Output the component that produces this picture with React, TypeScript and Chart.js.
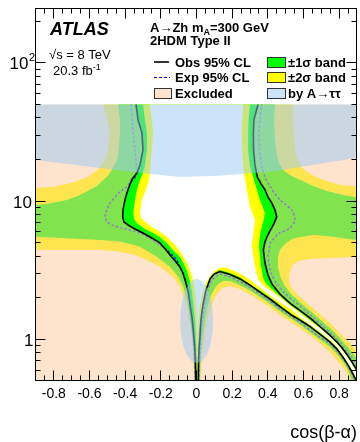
import { useEffect, useRef } from 'react';
import { Chart, registerables } from 'chart.js';

Chart.register(...registerables);

type Pt = [number, number];

// Axis ranges: cos(β−α) horizontally, tanβ (log) vertically
const X_MIN = -0.9;
const X_MAX = 0.9;
const Y_MIN = 0.5;
const Y_MAX = 250;
const Y_TOP = 50; // contours are computed up to tanβ = 50

const xTickValues = [-0.8, -0.6, -0.4, -0.2, 0, 0.2, 0.4, 0.6, 0.8];
const xTickLabels = ['-0.8', '-0.6', '-0.4', '-0.2', '0', '0.2', '0.4', '0.6', '0.8'];
const xMinorTicks = [-0.85, -0.75, -0.7, -0.65, -0.55, -0.5, -0.45, -0.35, -0.3, -0.25, -0.15, -0.1, -0.05,
  0.05, 0.1, 0.15, 0.25, 0.3, 0.35, 0.45, 0.5, 0.55, 0.65, 0.7, 0.75, 0.85];
const yMajorTicks = [1, 10, 100];
const yMinorTicks = [0.6, 0.7, 0.8, 0.9, 2, 3, 4, 5, 6, 7, 8, 9, 20, 30, 40, 50, 60, 70, 80, 90, 200];

// Observed 95% CL contour: left branch (top to bottom)
const obsLeft: Pt[] = [[-0.339, 50], [-0.328, 38.8], [-0.306, 31.3], [-0.300, 23.5], [-0.317, 18.3], [-0.334, 16.0], [-0.363, 14.3], [-0.390, 11.5], [-0.401, 10.2], [-0.412, 8.65], [-0.414, 7.70], [-0.407, 7.08], [-0.384, 6.73], [-0.345, 6.30], [-0.300, 5.89], [-0.250, 5.42], [-0.205, 4.99], [-0.171, 4.44], [-0.139, 3.95], [-0.115, 3.63], [-0.093, 3.34], [-0.076, 3.02], [-0.064, 2.69], [-0.053, 2.39], [-0.045, 2.17], [-0.036, 1.77], [-0.025, 1.43], [-0.018, 1.17], [-0.011, 0.909], [-0.006, 0.708], [-0.004, 0.5]];
// Observed: right of the spike, over the bump and down to the bottom edge
const obsLower: Pt[] = [[0.010, 0.5], [0.011, 0.651], [0.014, 0.837], [0.020, 1.07], [0.025, 1.38], [0.036, 1.77], [0.053, 2.28], [0.076, 2.74], [0.098, 2.97], [0.132, 3.10], [0.188, 2.95], [0.244, 2.74], [0.300, 2.47], [0.356, 2.20], [0.412, 1.96], [0.485, 1.66], [0.536, 1.49], [0.580, 1.38], [0.636, 1.24], [0.692, 1.09], [0.749, 0.956], [0.788, 0.851], [0.821, 0.744], [0.850, 0.651], [0.872, 0.579], [0.889, 0.524], [0.896, 0.5]];
// Observed: upper-right branch (right edge up to the top)
const obsUpper: Pt[] = [[0.900, 0.599], [0.889, 0.630], [0.872, 0.685], [0.850, 0.757], [0.821, 0.851], [0.788, 0.956], [0.749, 1.07], [0.692, 1.24], [0.636, 1.43], [0.580, 1.62], [0.524, 1.83], [0.468, 2.13], [0.423, 2.52], [0.401, 2.92], [0.384, 3.57], [0.375, 4.44], [0.384, 5.07], [0.395, 5.51], [0.412, 6.09], [0.431, 6.73], [0.450, 7.70], [0.440, 8.65], [0.422, 9.72], [0.401, 10.7], [0.384, 12.1], [0.362, 13.35], [0.341, 15.0], [0.328, 18.3], [0.320, 23.5], [0.319, 31.3], [0.322, 38.8], [0.334, 44.4], [0.345, 50]];

// Expected 95% CL contour
const expLeft: Pt[] = [[-0.367, 50], [-0.356, 32.9], [-0.345, 23.5], [-0.335, 16.9], [-0.345, 14.8], [-0.373, 13.6], [-0.391, 12.7], [-0.429, 11.7], [-0.457, 10.7], [-0.485, 9.72], [-0.504, 8.65], [-0.513, 7.83], [-0.504, 7.08], [-0.474, 6.73], [-0.429, 6.41], [-0.373, 6.19], [-0.317, 5.89], [-0.261, 5.42], [-0.205, 4.82], [-0.165, 4.44], [-0.132, 4.02], [-0.109, 3.76], [-0.093, 3.34], [-0.070, 2.87], [-0.053, 2.39], [-0.042, 1.93], [-0.028, 1.38], [-0.017, 0.988], [-0.011, 0.708], [-0.008, 0.5]];
const expLower: Pt[] = [[0.014, 0.5], [0.016, 0.651], [0.020, 0.837], [0.025, 1.07], [0.032, 1.38], [0.045, 1.77], [0.062, 2.24], [0.081, 2.65], [0.109, 2.87], [0.137, 2.97], [0.188, 2.83], [0.244, 2.62], [0.300, 2.37], [0.373, 2.06], [0.485, 1.60], [0.580, 1.33], [0.676, 1.07], [0.749, 0.925], [0.793, 0.809], [0.827, 0.708], [0.855, 0.619], [0.878, 0.542], [0.889, 0.5]];
const expUpper: Pt[] = [[0.900, 0.641], [0.872, 0.732], [0.838, 0.837], [0.805, 0.948], [0.765, 1.07], [0.709, 1.25], [0.653, 1.45], [0.600, 1.66], [0.547, 1.89], [0.493, 2.17], [0.449, 2.52], [0.423, 2.92], [0.407, 3.46], [0.401, 3.95], [0.407, 4.44], [0.412, 4.97], [0.459, 5.86], [0.496, 6.09], [0.524, 6.38], [0.547, 6.96], [0.552, 7.53], [0.544, 8.23], [0.534, 8.65], [0.502, 9.40], [0.468, 10.2], [0.435, 11.5], [0.412, 12.8], [0.384, 14.8], [0.366, 17.8], [0.353, 23.5], [0.350, 31.2], [0.356, 38.8], [0.366, 50]];

// Expected −1σ contour (inner edge of the ±1σ band)
const inner1Left: Pt[] = [[-0.300, 50], [-0.289, 38.8], [-0.278, 31.3], [-0.278, 23.5], [-0.289, 18.3], [-0.300, 16.0], [-0.317, 14.3], [-0.334, 12.1], [-0.345, 10.2], [-0.354, 8.23], [-0.350, 7.44], [-0.335, 6.96], [-0.289, 6.30], [-0.243, 5.89], [-0.205, 5.51], [-0.167, 4.99], [-0.132, 4.44], [-0.093, 3.95], [-0.070, 3.51], [-0.055, 3.18], [-0.039, 2.69], [-0.027, 2.28], [-0.017, 1.77], [-0.008, 1.38], [-0.003, 0.988], [0.000, 0.708], [0.001, 0.5]];
const inner1Lower: Pt[] = [[0.007, 0.5], [0.008, 0.708], [0.011, 0.909], [0.016, 1.17], [0.025, 1.50], [0.039, 1.93], [0.059, 2.35], [0.081, 2.78], [0.109, 3.07], [0.132, 3.18], [0.188, 3.02], [0.244, 2.80], [0.300, 2.50], [0.356, 2.26], [0.412, 2.01], [0.485, 1.70], [0.536, 1.52], [0.580, 1.41], [0.636, 1.26], [0.692, 1.11], [0.749, 0.972], [0.788, 0.865], [0.821, 0.757], [0.850, 0.662], [0.872, 0.589], [0.889, 0.533], [0.900, 0.51]];
const inner1Upper: Pt[] = [[0.900, 0.589], [0.889, 0.619], [0.872, 0.674], [0.850, 0.744], [0.821, 0.837], [0.788, 0.940], [0.749, 1.06], [0.692, 1.22], [0.636, 1.39], [0.580, 1.58], [0.524, 1.79], [0.468, 2.06], [0.423, 2.31], [0.390, 2.54], [0.373, 2.78], [0.362, 3.40], [0.356, 3.97], [0.350, 4.82], [0.356, 5.70], [0.366, 6.51], [0.379, 7.57], [0.384, 8.19], [0.367, 9.40], [0.356, 10.2], [0.339, 12.1], [0.328, 13.5], [0.306, 16.9], [0.300, 17.8], [0.290, 23.5], [0.290, 31.2], [0.292, 38.8], [0.300, 50]];

// Expected −2σ contour (inner edge of the ±2σ band)
const inner2Left: Pt[] = [[-0.261, 50], [-0.250, 38.8], [-0.244, 31.3], [-0.250, 23.5], [-0.258, 18.3], [-0.266, 14.3], [-0.283, 12.1], [-0.307, 10.2], [-0.317, 8.23], [-0.311, 7.57], [-0.289, 7.11], [-0.250, 6.51], [-0.205, 6.02], [-0.165, 5.51], [-0.130, 4.96], [-0.098, 4.44], [-0.074, 3.97], [-0.053, 3.57], [-0.036, 3.18], [-0.020, 2.69], [-0.008, 2.28], [-0.001, 1.77], [0.003, 1.38], [0.004, 0.5]];
const inner2Lower: Pt[] = [[0.005, 0.5], [0.006, 0.988], [0.010, 1.33], [0.020, 1.77], [0.034, 2.17], [0.053, 2.56], [0.081, 2.92], [0.109, 3.18], [0.132, 3.31], [0.171, 3.29], [0.227, 3.07], [0.283, 2.80], [0.356, 2.37], [0.412, 2.08], [0.468, 1.86], [0.524, 1.67], [0.580, 1.45], [0.636, 1.28], [0.692, 1.13], [0.749, 0.988], [0.788, 0.880], [0.821, 0.769], [0.850, 0.674], [0.872, 0.599], [0.889, 0.542], [0.900, 0.516]];
const inner2Upper: Pt[] = [[0.900, 0.579], [0.889, 0.609], [0.872, 0.662], [0.850, 0.732], [0.821, 0.823], [0.788, 0.925], [0.749, 1.04], [0.692, 1.20], [0.636, 1.36], [0.580, 1.54], [0.524, 1.76], [0.468, 2.01], [0.412, 2.28], [0.373, 2.47], [0.347, 2.69], [0.328, 3.36], [0.310, 4.69], [0.319, 5.86], [0.328, 7.32], [0.300, 9.14], [0.282, 12.1], [0.262, 17.8], [0.253, 31.2], [0.262, 50]];

// Expected +1σ contour (outer edge of the ±1σ band)
const outer1Left: Pt[] = [[-0.440, 50], [-0.429, 38.8], [-0.429, 31.3], [-0.435, 23.5], [-0.446, 19.9], [-0.474, 16.9], [-0.502, 15.0], [-0.552, 13.1], [-0.597, 12.1], [-0.665, 10.9], [-0.726, 10.2], [-0.822, 9.64], [-0.900, 9.40], [-0.900, 5.51], [-0.765, 5.42], [-0.541, 5.24], [-0.429, 5.10], [-0.317, 4.69], [-0.223, 3.97], [-0.149, 3.36], [-0.102, 2.84], [-0.074, 2.40], [-0.053, 1.93], [-0.039, 1.50], [-0.027, 1.17], [-0.018, 0.909], [-0.014, 0.708], [-0.011, 0.5]];
const outer1Lower: Pt[] = [[0.020, 0.5], [0.022, 0.651], [0.028, 0.837], [0.036, 1.07], [0.048, 1.38], [0.064, 1.77], [0.087, 2.17], [0.115, 2.47], [0.149, 2.65], [0.188, 2.65], [0.244, 2.47], [0.300, 2.26], [0.373, 1.96], [0.485, 1.54], [0.580, 1.28], [0.676, 1.03], [0.749, 0.880], [0.793, 0.769], [0.827, 0.674], [0.850, 0.599], [0.872, 0.5]];
const outer1Upper: Pt[] = [[0.900, 0.720], [0.872, 0.809], [0.838, 0.909], [0.799, 1.04], [0.749, 1.21], [0.692, 1.40], [0.636, 1.62], [0.580, 1.86], [0.530, 2.13], [0.496, 2.43], [0.474, 2.78], [0.457, 3.29], [0.457, 3.88], [0.468, 4.44], [0.496, 4.90], [0.536, 5.33], [0.580, 5.51], [0.653, 5.70], [0.749, 5.56], [0.833, 5.37], [0.900, 5.24], [0.900, 10.7], [0.833, 11.0], [0.749, 11.7], [0.653, 12.9], [0.580, 14.3], [0.524, 15.5], [0.485, 16.9], [0.463, 18.9], [0.450, 21.7], [0.440, 27.8], [0.435, 35.7], [0.440, 50]];

// Expected +2σ contour (outer edge of the ±2σ band)
const outer2Left: Pt[] = [[-0.524, 50], [-0.502, 38.8], [-0.485, 31.3], [-0.496, 23.5], [-0.513, 19.9], [-0.552, 16.9], [-0.608, 15.0], [-0.681, 13.8], [-0.782, 12.8], [-0.900, 12.5], [-0.900, 4.44], [-0.765, 4.44], [-0.541, 4.44], [-0.429, 4.31], [-0.345, 4.08], [-0.299, 3.86], [-0.205, 3.36], [-0.130, 2.84], [-0.093, 2.40], [-0.064, 1.93], [-0.045, 1.50], [-0.031, 1.17], [-0.022, 0.909], [-0.018, 0.708], [-0.014, 0.5]];
const outer2Lower: Pt[] = [[0.025, 0.5], [0.028, 0.651], [0.036, 0.837], [0.048, 1.07], [0.062, 1.38], [0.081, 1.74], [0.109, 2.09], [0.143, 2.35], [0.188, 2.43], [0.244, 2.31], [0.311, 2.09], [0.384, 1.80], [0.485, 1.45], [0.580, 1.21], [0.665, 1.005], [0.737, 0.837], [0.782, 0.720], [0.816, 0.641], [0.844, 0.570], [0.861, 0.5]];
const outer2Upper: Pt[] = [[0.900, 0.823], [0.855, 0.956], [0.810, 1.09], [0.760, 1.27], [0.704, 1.48], [0.648, 1.70], [0.592, 1.96], [0.552, 2.20], [0.527, 2.43], [0.519, 2.69], [0.522, 3.02], [0.536, 3.40], [0.569, 3.69], [0.636, 3.82], [0.749, 3.88], [0.900, 3.95], [0.900, 12.8], [0.805, 13.1], [0.709, 14.3], [0.636, 15.8], [0.592, 17.4], [0.569, 19.9], [0.552, 23.5], [0.547, 31.3], [0.541, 38.8], [0.541, 50]];

// Regions excluded by A→ττ: high-tanβ band and the blob around cos(β−α) = 0
const tautauEdge: Pt[] = [[0.900, 20.6], [0.653, 18.3], [0.412, 16.3], [0.132, 15.3], [-0.093, 15.0], [-0.317, 16.0], [-0.541, 17.4], [-0.720, 18.6], [-0.900, 19.9]];
const tautauBlob: Pt[] = [[0.094, 1.357], [0.086, 1.776], [0.067, 2.23], [0.036, 2.59], [0.001, 2.74], [-0.034, 2.59], [-0.064, 2.23], [-0.084, 1.776], [-0.091, 1.357], [-0.084, 1.037], [-0.064, 0.827], [-0.034, 0.710], [0.001, 0.674], [0.036, 0.710], [0.067, 0.827], [0.086, 1.037], [0.094, 1.357]];

const YELLOW = '#ffff00';
const GREEN = '#00ff00';
const EXCL = 'rgba(253, 202, 155, 0.51)';
const TAUTAU = 'rgba(153, 201, 245, 0.5)';
const EXP_COLOR = 'rgb(40, 40, 255)';
const FONT = '"Liberation Sans", Arial, Helvetica, sans-serif';

const xy = (pts: Pt[]) => pts.map(([x, y]) => ({ x, y }));

function area(pts: Pt[], color: string, tension = 0.0001) {
  return {
    data: xy(pts), fill: 'shape', backgroundColor: color, borderColor: 'transparent',
    borderWidth: 0, pointRadius: 0, tension,
  };
}
function curve(pts: Pt[], color: string, width: number, dash: number[] = []) {
  return {
    data: xy(pts), fill: false, borderColor: color, borderWidth: width, borderDash: dash,
    pointRadius: 0, tension: 0.0001,
  };
}

function buildDatasets() {
  const corner: Pt = [X_MAX, Y_MIN];
  const layers: any[] = [
    area([...outer2Left, ...outer2Lower, corner, ...outer2Upper], YELLOW),
    area([...outer1Left, ...outer1Lower, corner, ...outer1Upper], GREEN),
    area([...inner1Left, ...inner1Lower, ...inner1Upper], YELLOW),
    area([...inner2Left, ...inner2Lower, ...inner2Upper], '#ffffff'),
    curve(expLeft, EXP_COLOR, 1.5, [2.5, 2]),
    curve(expLower, EXP_COLOR, 1.5, [2.5, 2]),
    curve(expUpper, EXP_COLOR, 1.5, [2.5, 2]),
    area([[X_MIN, Y_TOP], ...obsLeft, [X_MIN, Y_MIN]], EXCL),
    area(obsLower, EXCL),
    area([...obsUpper, [X_MAX, Y_TOP]], EXCL),
    curve(obsLeft, '#000', 1.6),
    curve(obsLower, '#000', 1.6),
    curve(obsUpper, '#000', 1.6),
    area([[X_MIN, Y_TOP], [X_MAX, Y_TOP], ...tautauEdge], TAUTAU),
    area(tautauBlob, TAUTAU, 0.35),
  ];
  // first entry painted first (bottom), last on top
  return layers.map((d, i) => ({ ...d, order: 100 - i }));
}

function drawRuns(ctx: CanvasRenderingContext2D, x: number, y: number, parts: { t: string; font: string; dy?: number }[]) {
  let cx = x;
  for (const p of parts) {
    ctx.font = p.font;
    ctx.fillText(p.t, cx, y + (p.dy || 0));
    cx += ctx.measureText(p.t).width;
  }
}

const framePlugin = {
  id: 'atlasFrame',
  afterDraw(chart: any) {
    const { ctx, chartArea: a } = chart;
    const xs = chart.scales.x;
    const ys = chart.scales.y;
    const L = a.left - 0.5, R = a.right - 0.5, T = a.top + 0.5, B = a.bottom - 0.5;
    ctx.save();
    ctx.strokeStyle = '#000';
    ctx.lineWidth = 1;
    ctx.setLineDash([]);
    ctx.strokeRect(L, T, R - L, B - T);

    ctx.beginPath();
    const xt = (v: number, len: number) => {
      const p = Math.floor(xs.getPixelForValue(v)) + 0.5;
      ctx.moveTo(p, B); ctx.lineTo(p, B - len);
      ctx.moveTo(p, T); ctx.lineTo(p, T + len);
    };
    const yt = (v: number, len: number) => {
      const p = Math.floor(ys.getPixelForValue(v)) + 0.5;
      ctx.moveTo(L, p); ctx.lineTo(L + len, p);
      ctx.moveTo(R, p); ctx.lineTo(R - len, p);
    };
    xTickValues.forEach((v) => xt(v, 10));
    xMinorTicks.forEach((v) => xt(v, 5));
    yMajorTicks.forEach((v) => yt(v, 10));
    yMinorTicks.forEach((v) => yt(v, 5));
    ctx.stroke();

    ctx.fillStyle = '#000';
    // x tick labels
    ctx.font = `14px ${FONT}`;
    ctx.textAlign = 'center';
    ctx.textBaseline = 'alphabetic';
    xTickValues.forEach((v, i) => ctx.fillText(xTickLabels[i], xs.getPixelForValue(v), 398));

    // y tick labels
    ctx.font = `17px ${FONT}`;
    ctx.textAlign = 'right';
    ctx.fillText('1', 33.5, ys.getPixelForValue(1) + 6.5);
    ctx.fillText('10', 32, ys.getPixelForValue(10) + 6.5);
    const y100 = ys.getPixelForValue(100) + 6.5;
    ctx.fillText('10', 28.5, y100);
    ctx.textAlign = 'left';
    ctx.font = `11px ${FONT}`;
    ctx.fillText('2', 29, y100 - 8);

    // axis title
    ctx.font = `18px ${FONT}`;
    ctx.textAlign = 'right';
    ctx.fillText('cos(β-α)', 357, 438);

    // experiment labels
    ctx.textAlign = 'left';
    ctx.font = `italic bold 18px ${FONT}`;
    ctx.fillText('ATLAS', 50, 35);
    ctx.font = `13px ${FONT}`;
    ctx.fillText('√s = 8 TeV', 49, 59);
    drawRuns(ctx, 53, 75, [
      { t: '20.3 fb', font: `13px ${FONT}` },
      { t: '-1', font: `9px ${FONT}`, dy: -5 },
    ]);
    drawRuns(ctx, 150, 31.5, [
      { t: 'A→Zh m', font: `bold 13px ${FONT}` },
      { t: 'A', font: `bold 9px ${FONT}`, dy: 3 },
      { t: '=300 GeV', font: `bold 13px ${FONT}` },
    ]);
    ctx.font = `bold 13px ${FONT}`;
    ctx.fillText('2HDM Type II', 150, 45);

    // legend
    ctx.lineWidth = 1.6;
    ctx.beginPath(); ctx.moveTo(154, 62); ctx.lineTo(169, 62); ctx.stroke();
    ctx.strokeStyle = '#0000ff';
    ctx.lineWidth = 1;
    ctx.setLineDash([3, 2]);
    ctx.beginPath(); ctx.moveTo(154, 77.5); ctx.lineTo(170, 77.5); ctx.stroke();
    ctx.setLineDash([]);

    const box = (x: number, y: number, w: number, h: number, fill: string) => {
      ctx.fillStyle = fill;
      ctx.fillRect(x, y, w, h);
      ctx.strokeStyle = '#333';
      ctx.lineWidth = 1;
      ctx.strokeRect(x + 0.5, y + 0.5, w - 1, h - 1);
    };
    box(267, 57, 19, 11, GREEN);
    box(267, 72, 19, 11, YELLOW);
    box(154, 88, 18, 11, 'rgb(254, 228, 204)');
    box(267, 88, 19, 11, 'rgb(204, 228, 250)');

    ctx.fillStyle = '#000';
    ctx.font = `bold 13px ${FONT}`;
    ctx.fillText('Obs 95% CL', 175, 66.5);
    ctx.fillText('Exp 95% CL', 175, 82);
    ctx.fillText('Excluded', 175, 97.5);
    ctx.fillText('±1σ band', 288, 66.5);
    ctx.fillText('±2σ band', 288, 82);
    ctx.fillText('by A→ττ', 288, 97.5);
    ctx.restore();
  },
};

export default function App() {
  const ref = useRef<HTMLCanvasElement>(null);
  useEffect(() => {
    const canvas = ref.current;
    if (!canvas) return;
    const chart = new Chart(canvas, {
      type: 'line',
      data: { datasets: buildDatasets() },
      options: {
        responsive: false,
        maintainAspectRatio: false,
        animation: false,
        devicePixelRatio: 1,
        events: [],
        layout: { padding: { top: 8, right: 3, left: 0, bottom: 0 } },
        scales: {
          x: {
            type: 'linear', min: X_MIN, max: X_MAX,
            grid: { display: false }, border: { display: false }, ticks: { display: false },
            afterFit: (s: any) => { s.height = 61; },
          },
          y: {
            type: 'logarithmic', min: Y_MIN, max: Y_MAX,
            grid: { display: false }, border: { display: false }, ticks: { display: false },
            afterFit: (s: any) => { s.width = 36; },
          },
        },
        plugins: { legend: { display: false }, tooltip: { enabled: false } },
      } as any,
      plugins: [framePlugin],
    } as any);
    return () => chart.destroy();
  }, []);
  return (
    <div style={{ position: 'absolute', left: 0, top: 0, width: 360, height: 442, background: '#fff' }}>
      <canvas ref={ref} width={360} height={442} style={{ display: 'block', width: 360, height: 442 }} />
    </div>
  );
}
